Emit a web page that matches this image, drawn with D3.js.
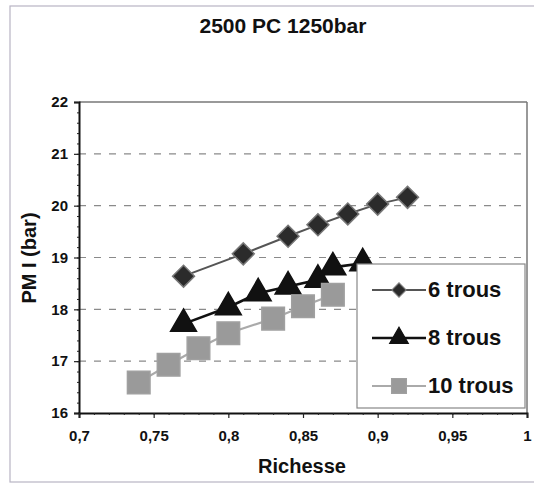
<!DOCTYPE html>
<html><head><meta charset="utf-8">
<script src="https://cdn.jsdelivr.net/npm/d3@7"></script>
<style>body{margin:0;background:#fff}svg{display:block;font-family:"Liberation Sans",Arial,sans-serif}
.tk text{font-size:15px;font-weight:bold;fill:#111;font-family:"Liberation Sans",Arial,sans-serif}</style>
</head><body><svg id="c" width="534" height="483"></svg>
<script>
const xTicks = [0.7,0.75,0.8,0.85,0.9,0.95,1];
const xTickLabels = ["0,7","0,75","0,8","0,85","0,9","0,95","1"];
const yTicks = [16,17,18,19,20,21,22];
const seriesNames = ["6 trous","8 trous","10 trous"];
const x6 = [0.77,0.81,0.84,0.86,0.88,0.90,0.92];
const y6 = [18.64,19.07,19.41,19.63,19.84,20.03,20.16];
const x8 = [0.77,0.80,0.82,0.84,0.86,0.87,0.89];
const y8 = [17.72,18.04,18.31,18.44,18.57,18.81,18.89];
const x10 = [0.74,0.76,0.78,0.80,0.83,0.85,0.87];
const y10 = [16.59,16.93,17.25,17.54,17.82,18.06,18.28];

const svg = d3.select("#c");
const L=79,R=527,T=102,B=413;
const x = d3.scaleLinear().domain([0.7,1]).range([L,R]);
const y = d3.scaleLinear().domain([16,22]).range([B,T]);

// outer frame
svg.append("rect").attr("x",10).attr("y",6).attr("width",540).attr("height",476)
  .attr("fill","none").attr("stroke","#b8b4c4").attr("stroke-width",1.2);

// title
svg.append("text").attr("x",283).attr("y",33).attr("text-anchor","middle")
  .attr("font-size",21).attr("font-weight","bold").attr("fill","#111").text("2500 PC 1250bar");

// grid
svg.append("g").selectAll("line").data(yTicks.filter(d=>d>16&&d<22)).join("line")
  .attr("x1",L).attr("x2",R).attr("y1",d=>y(d)).attr("y2",d=>y(d))
  .attr("stroke","#8a8a8a").attr("stroke-width",1.2).attr("stroke-dasharray","7,8");

// plot border top/right
svg.append("line").attr("x1",L).attr("x2",R).attr("y1",T).attr("y2",T).attr("stroke","#777").attr("stroke-width",1.3);
svg.append("line").attr("x1",R).attr("x2",R).attr("y1",T).attr("y2",B).attr("stroke","#777").attr("stroke-width",1.5);

// axes
const yAxis = d3.axisLeft(y).tickValues(yTicks).tickSize(5).tickFormat(d=>d);
const gy = svg.append("g").attr("class","tk").attr("transform",`translate(${L},0)`).call(yAxis);
const yMinor = d3.axisLeft(y).tickValues(d3.range(16,22.01,0.2)).tickSize(2).tickFormat("");
svg.append("g").attr("transform",`translate(${L},0)`).call(yMinor).call(g=>g.select(".domain").remove());
const xAxis = d3.axisBottom(x).tickValues(xTicks).tickSize(5).tickFormat((d,i)=>xTickLabels[i]);
const gx = svg.append("g").attr("class","tk").attr("transform",`translate(0,${B})`).call(xAxis);
const xMinor = d3.axisBottom(x).tickValues(d3.range(0.7,1.0001,0.01)).tickSize(2).tickFormat("");
svg.append("g").attr("transform",`translate(0,${B})`).call(xMinor).call(g=>g.select(".domain").remove());
[gx,gy].forEach(g=>{
  g.select(".domain").attr("stroke","#111").attr("stroke-width",2);
  g.selectAll(".tick line").attr("stroke","#111").attr("stroke-width",1.2);
});
gy.selectAll("text").attr("dx",-3);
gx.selectAll("text").attr("dy","1.3em");
svg.selectAll(".tick line").attr("stroke","#222");

// axis titles
svg.append("text").attr("transform","translate(36,258) rotate(-90)").attr("text-anchor","middle")
  .attr("font-size",20).attr("font-weight","bold").attr("fill","#111").text("PM I (bar)");
svg.append("text").attr("x",302).attr("y",473).attr("text-anchor","middle")
  .attr("font-size",20).attr("font-weight","bold").attr("fill","#111").text("Richesse");

const line = d3.line().x(d=>x(d[0])).y(d=>y(d[1]));
const s6 = x6.map((v,i)=>[v,y6[i]]);
const s8 = x8.map((v,i)=>[v,y8[i]]);
const s10 = x10.map((v,i)=>[v,y10[i]]);

const styles = [
  {data:s6, stroke:"#555", sw:2, sym:d3.symbolSquare, rot:45, fill:"#2b2b2b", mstroke:"#777", size:240, lsize:100},
  {data:s8, stroke:"#111", sw:2.6, sym:d3.symbolTriangle, rot:0, fill:"#111", mstroke:"#111", size:290, lsize:150},
  {data:s10, stroke:"#aaa", sw:2.2, sym:d3.symbolSquare, rot:0, fill:"#9a9a9a", mstroke:"#a0a0a0", size:510, lsize:220}
];
styles.forEach(s=>{
  svg.append("path").datum(s.data).attr("d",line).attr("fill","none").attr("stroke",s.stroke).attr("stroke-width",s.sw);
});
styles.forEach(s=>{
  svg.append("g").selectAll("path").data(s.data).join("path")
    .attr("transform",d=>`translate(${x(d[0])},${y(d[1])}) rotate(${s.rot})`)
    .attr("d",d3.symbol().type(s.sym).size(s.size))
    .attr("fill",s.fill).attr("stroke",s.mstroke).attr("stroke-width",1.5);
});

// legend
const lg = svg.append("g");
lg.append("rect").attr("x",357).attr("y",264).attr("width",168).attr("height",144)
  .attr("fill","#fff").attr("stroke","#888").attr("stroke-width",1.2);
const ly = [290,338,386];
styles.forEach((s,i)=>{
  lg.append("line").attr("x1",372).attr("x2",426).attr("y1",ly[i]).attr("y2",ly[i])
    .attr("stroke",s.stroke).attr("stroke-width",s.sw);
  lg.append("path").attr("transform",`translate(399,${ly[i]}) rotate(${s.rot})`)
    .attr("d",d3.symbol().type(s.sym).size(s.lsize))
    .attr("fill",s.fill).attr("stroke",s.mstroke).attr("stroke-width",1.2);
  lg.append("text").attr("x",428).attr("y",ly[i]+7).attr("font-size",22).attr("font-weight","bold")
    .attr("fill","#111").text(seriesNames[i]);
});
</script></body></html>
